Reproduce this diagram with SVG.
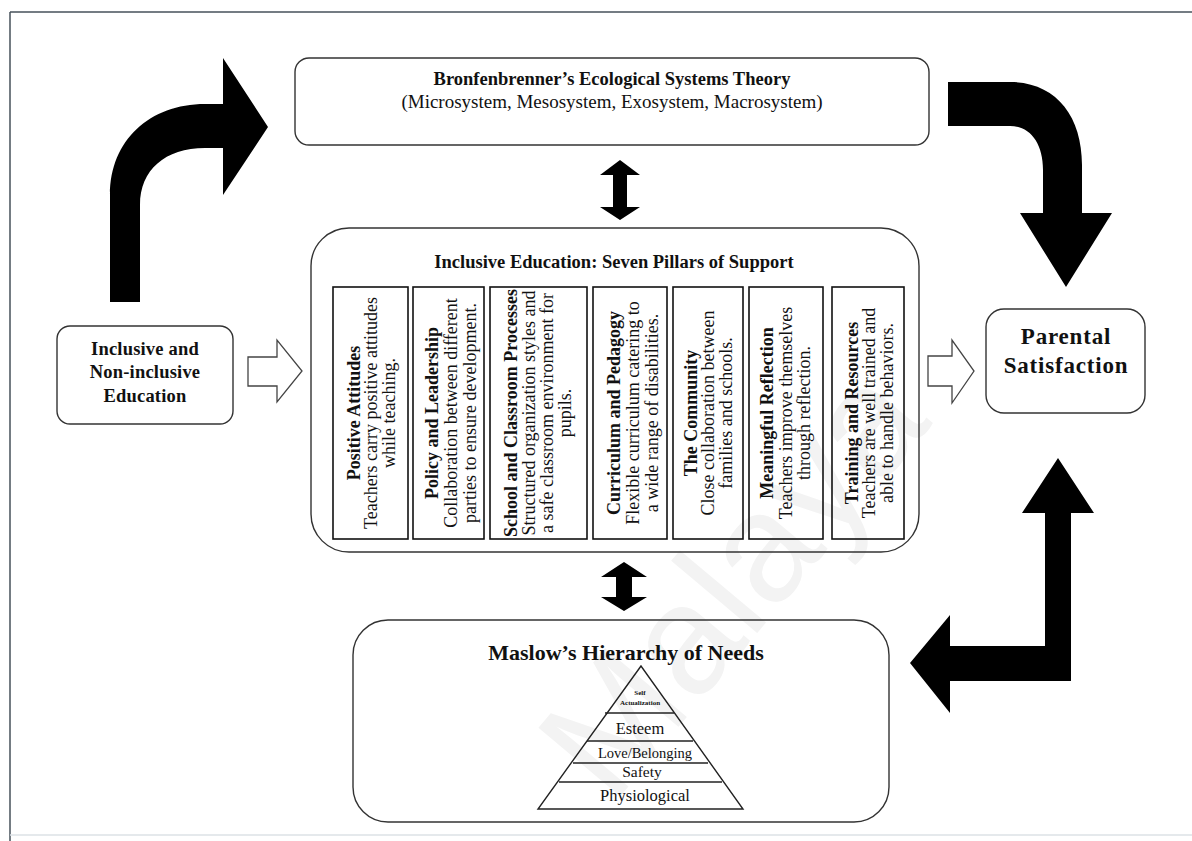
<svg xmlns="http://www.w3.org/2000/svg" width="1192" height="841" viewBox="0 0 1192 841">
<style>
.box{fill:none;stroke:#333;stroke-width:1.4}
.pil{fill:none;stroke:#111;stroke-width:1.6}
.blk{fill:#000;stroke:none}
.hol{fill:#fff;stroke:#444;stroke-width:1.3}
.b{font-family:"Liberation Serif","Times New Roman",serif;font-weight:bold;fill:#111}
.r{font-family:"Liberation Serif","Times New Roman",serif;fill:#111}
.pt{font-size:18px;text-anchor:middle}
.ln{stroke:#222;stroke-width:1.6}
.m{text-anchor:middle}
</style>
<rect x="0" y="0" width="1192" height="841" fill="#fff"/>
<text x="0" y="0" transform="translate(612,806) rotate(-50)" font-family="Liberation Sans, Arial, sans-serif" font-size="155" fill="#f3f3f3">Malaya</text>
<g id="frame">
<line x1="10" y1="12" x2="1192" y2="12" stroke="#46505a" stroke-width="1.5"/>
<line x1="10" y1="12" x2="10" y2="841" stroke="#46505a" stroke-width="1.5"/>
<line x1="10" y1="835" x2="1192" y2="835" stroke="#dde2e6" stroke-width="1.5"/>
</g>
<g id="connectors">
<path class="blk" d="M110,302 L110,195 C110,140 150,104 205,104 L223,104 L223,58 L268,127 L223,195 L223,148 L205,148 C165,148 140,170 140,205 L140,302 Z"/>
<path class="blk" d="M948,82 L1010,82 C1055,82 1082,115 1082,165 L1082,213 L1112,213 L1066,287 L1020,213 L1043,213 L1043,170 C1043,143 1030,126 1010,126 L948,126 Z"/>
<path class="blk" d="M1058,458 L1094,513 L1071,513 L1071,681 L950,681 L950,713 L910,663 L950,615 L950,646 L1045,646 L1045,513 L1022,513 Z"/>
<path class="blk" d="M620,160 L640,175 L627,175 L627,207 L640,207 L620,220 L600,207 L613,207 L613,175 L600,175 Z"/>
<path class="blk" d="M624,562 L647,577 L632,577 L632,597 L647,597 L624,611 L601,597 L616,597 L616,577 L601,577 Z"/>
<path class="hol" d="M248,357 L277,357 L277,340 L302,371 L277,402 L277,386 L248,386 Z"/>
<path class="hol" d="M928,356 L952,356 L952,340 L974,371 L952,403 L952,386 L928,386 Z"/>
</g>
<g id="bronfenbrenner">
<rect class="box" x="295" y="58" width="634" height="87" rx="14"/>
<text class="b m" x="612" y="85" font-size="18.5">Bronfenbrenner’s Ecological Systems Theory</text>
<text class="r m" x="612" y="108" font-size="19">(Microsystem, Mesosystem, Exosystem, Macrosystem)</text>
</g>
<g id="inclusive-input">
<rect class="box" x="57" y="326" width="176" height="98" rx="13"/>
<text class="b m" x="145" y="355" font-size="18.5" letter-spacing="0.2">Inclusive and</text>
<text class="b m" x="145" y="378" font-size="18.5" letter-spacing="0.2">Non-inclusive</text>
<text class="b m" x="145" y="402" font-size="18.5" letter-spacing="0.2">Education</text>
</g>
<g id="parental">
<rect class="box" x="986" y="309" width="159" height="104" rx="18"/>
<text class="b m" x="1066" y="344" font-size="23" letter-spacing="0.8">Parental</text>
<text class="b m" x="1066" y="373" font-size="23" letter-spacing="0.8">Satisfaction</text>
</g>
<g id="pillars">
<rect class="box" x="311" y="228" width="608" height="324" rx="38"/>
<text class="b m" x="614" y="268" font-size="18.5">Inclusive Education: Seven Pillars of Support</text>
<g id="pillar1">
<rect class="pil" x="333" y="287" width="75" height="252"/>
<g transform="translate(0,413) rotate(-90)">
<text class="b pt" x="0" y="360">Positive Attitudes</text>
<text class="r pt" x="0" y="377">Teachers carry positive attitudes</text>
<text class="r pt" x="0" y="395">while teaching.</text>
</g>
</g>
<g id="pillar2">
<rect class="pil" x="413" y="287" width="71" height="252"/>
<g transform="translate(0,413) rotate(-90)">
<text class="b pt" x="0" y="438">Policy and Leadership</text>
<text class="r pt" x="0" y="457">Collaboration between different</text>
<text class="r pt" x="0" y="476">parties to ensure development.</text>
</g>
</g>
<g id="pillar3">
<rect class="pil" x="490" y="287" width="97" height="252"/>
<g transform="translate(0,413) rotate(-90)">
<text class="b pt" x="0" y="517">School and Classroom Processes</text>
<text class="r pt" x="0" y="535">Structured organization styles and</text>
<text class="r pt" x="0" y="553">a safe classroom environment for</text>
<text class="r pt" x="0" y="571">pupils.</text>
</g>
</g>
<g id="pillar4">
<rect class="pil" x="593" y="287" width="74" height="252"/>
<g transform="translate(0,413) rotate(-90)">
<text class="b pt" x="0" y="620">Curriculum and Pedagogy</text>
<text class="r pt" x="0" y="639">Flexible curriculum catering to</text>
<text class="r pt" x="0" y="658">a wide range of disabilities.</text>
</g>
</g>
<g id="pillar5">
<rect class="pil" x="673" y="287" width="70" height="252"/>
<g transform="translate(0,413) rotate(-90)">
<text class="b pt" x="0" y="697">The Community</text>
<text class="r pt" x="0" y="714">Close collaboration between</text>
<text class="r pt" x="0" y="732">families and schools.</text>
</g>
</g>
<g id="pillar6">
<rect class="pil" x="749" y="287" width="74" height="252"/>
<g transform="translate(0,413) rotate(-90)">
<text class="b pt" x="0" y="773">Meaningful Reflection</text>
<text class="r pt" x="0" y="792">Teachers improve themselves</text>
<text class="r pt" x="0" y="810">through reflection.</text>
</g>
</g>
<g id="pillar7">
<rect class="pil" x="832" y="287" width="72" height="252"/>
<g transform="translate(0,413) rotate(-90)">
<text class="b pt" x="0" y="858">Training and Resources</text>
<text class="r pt" x="0" y="875">Teachers are well trained and</text>
<text class="r pt" x="0" y="893">able to handle behaviors.</text>
</g>
</g>
</g>
<g id="maslow">
<rect class="box" x="353" y="620" width="536" height="202" rx="35"/>
<text class="b m" x="626" y="660" font-size="22">Maslow’s Hierarchy of Needs</text>
<path d="M641,666 L538,809 L743,809 Z" fill="none" stroke="#222" stroke-width="1.4"/>
<line class="ln" x1="605" y1="713" x2="674" y2="713"/>
<line class="ln" x1="587" y1="741" x2="693" y2="741"/>
<line class="ln" x1="573" y1="763" x2="708" y2="763"/>
<line class="ln" x1="559" y1="782" x2="722" y2="782"/>
<text class="b m" x="640" y="695" font-size="7">Self</text>
<text class="b m" x="640" y="705" font-size="7">Actualization</text>
<text class="r m" x="640" y="734" font-size="16.5">Esteem</text>
<text class="r m" x="645" y="758" font-size="14.5">Love/Belonging</text>
<text class="r m" x="642" y="777" font-size="15.5">Safety</text>
<text class="r m" x="645" y="801" font-size="16.5">Physiological</text>
</g>
</svg>
